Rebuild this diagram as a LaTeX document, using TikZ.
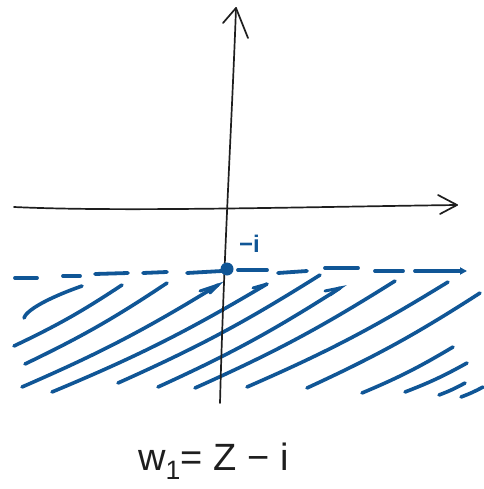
\documentclass[tikz,border=0pt]{standalone}
\usepackage{fontspec}
\setmainfont{Liberation Sans}
\usetikzlibrary{arrows.meta}
\definecolor{ink}{RGB}{16,86,150}
\definecolor{pen}{RGB}{30,30,30}
\begin{document}
\begin{tikzpicture}[x=1pt,y=-1pt,
  axis/.style={draw=pen, line width=1.7pt, line cap=round, line join=round},
  hatch/.style={draw=ink, line width=3.6pt, line cap=round},
  dashseg/.style={draw=ink, line width=3.8pt, line cap=round},
  pt/.style={circle, fill=ink, inner sep=0pt, minimum size=13pt},
  lbl/.style={inner sep=0pt}]
\useasboundingbox (0,0) rectangle (483,489);

% axes
\coordinate (xl) at (14,207);
\coordinate (xr) at (457,205);
\coordinate (xa1) at (438,195);
\coordinate (xa2) at (440,214);
\coordinate (yt) at (236,8);
\coordinate (yb) at (220,403);
\coordinate (ya1) at (223,23);
\coordinate (ya2) at (248,38);

% hatch lines
\foreach \ax/\ay/\bx/\by in {
  14/346/122/285, 25/364/167/283, 22/387/218/285, 52/392/267/284,
  118/383/320/275, 158/387/340/288, 195/388/395/281, 247/387/448/282,
  307/388/480/293, 362/393/453/347, 405/392/467/363, 439/395/465/383,
  461/397/483/387}
  \draw[hatch] (\ax,\ay) to[bend right=4] (\bx,\by);
\coordinate (h1a) at (24,318);
\coordinate (h1b) at (82,286);
\draw[hatch] (h1a) .. controls (26,311) and (45,299) .. (h1b);
% little hooks at some ends
\draw[hatch, line width=3pt] (200,291) -- (218,285) -- (210,293);
\draw[hatch, line width=3pt] (253,288) -- (267,284);
\draw[hatch, line width=3pt] (325,291) -- (340,288) -- (330,295);

% dashed line y = -1
\foreach \ax/\ay/\bx/\by in {
  15/278/37/278, 63/276/80/276, 95/274/128/273, 143/273/167/272,
  187/273/222/271, 238/270/267/270, 278/273/307/271, 325/268/358/268,
  375/271/403/271}
  \draw[dashseg] (\ax,\ay) -- (\bx,\by);
\coordinate (dl) at (415,271);
\coordinate (dr) at (467,271);
\draw[dashseg, -{Triangle[length=7pt,width=7pt]}] (dl) -- (dr);

% axes on top
\draw[axis] (xl) .. controls (120,212) and (300,207) .. (xr);
\draw[axis] (xa1) -- (xr) -- (xa2);
\draw[axis] (yb) .. controls (224,250) and (232,120) .. (yt);
\draw[axis] (ya1) -- (yt) -- (ya2);

% point -i
\node[pt] (p) at (227,269) {};
\node[lbl, text=ink, font=\fontsize{24}{26}\selectfont\bfseries, anchor=base west] (pl) at (239,252) {−i};

% equation
\node[lbl, text=pen, font=\fontsize{38}{42}\selectfont, anchor=base west] (eq) at (138,470) {w\textsubscript{1}= Z − i};
\end{tikzpicture}
\end{document}
